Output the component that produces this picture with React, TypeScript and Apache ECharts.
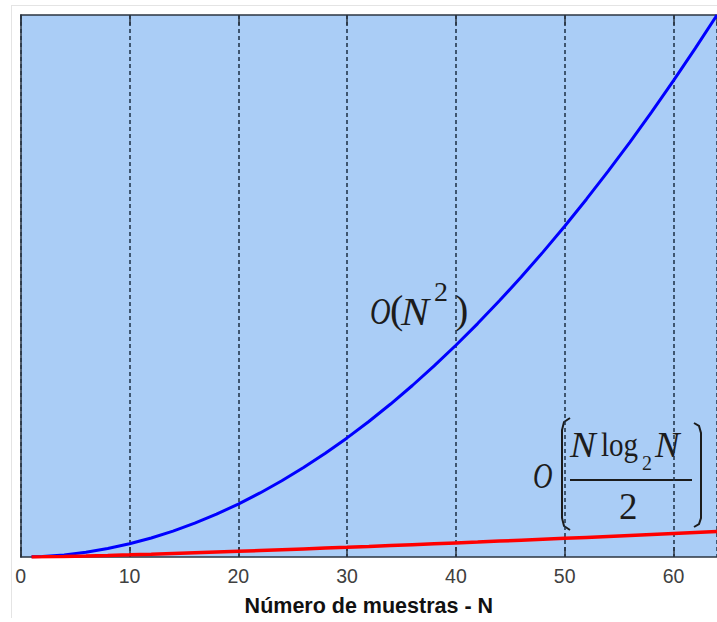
import React, { useEffect, useRef } from "react";
import * as echarts from "echarts";

// Sample sizes N and the two cost curves
const sampleN = [1, 2, 4, 6, 8, 10, 12, 14, 16, 18, 20, 22, 24, 26, 28, 30, 32, 34, 36, 38, 40, 42, 44, 46, 48, 50, 52, 54, 56, 58, 60, 62, 64];
const quadraticCost = [1, 4, 16, 36, 64, 100, 144, 196, 256, 324, 400, 484, 576, 676, 784, 900, 1024, 1156, 1296, 1444, 1600, 1764, 1936, 2116, 2304, 2500, 2704, 2916, 3136, 3364, 3600, 3844, 4096];
const fftCost = [0, 1, 4, 7.8, 12, 16.6, 21.5, 26.7, 32, 37.5, 43.2, 49.1, 55, 61.1, 67.3, 73.6, 80, 86.5, 93.1, 99.7, 106.4, 113.2, 120.1, 127, 134, 141.1, 148.2, 155.4, 162.6, 169.9, 177.2, 184.6, 192];
const xTickLabels = ["0", "10", "20", "30", "40", "50", "60"];
const xAxisTitle = "Número de muestras - N";

const SERIF = '"Liberation Serif", "Times New Roman", serif';
const INK = "#1c1c1c";

export default function App() {
  const ref = useRef<HTMLDivElement>(null);

  useEffect(() => {
    if (!ref.current) return;
    const chart = echarts.init(ref.current, undefined, { renderer: "svg" });

    const txt = (text: string, x: number, y: number, size: number, italic: boolean, sx = 1) => ({
      type: "text",
      x,
      y,
      scaleX: sx,
      silent: true,
      style: {
        text,
        fill: INK,
        fontFamily: SERIF,
        fontSize: size,
        fontStyle: italic ? "italic" : "normal",
        align: "left",
        verticalAlign: "middle",
      },
    });

    const option: any = {
      animation: false,
      backgroundColor: "#ffffff",
      grid: {
        left: 20.7,
        right: -3.2,
        top: 15,
        bottom: 57,
        show: true,
        backgroundColor: "#AACDF6",
        borderWidth: 0,
      },
      xAxis: [
        {
          type: "value",
          min: 0,
          max: 64,
          interval: 10,
          position: "bottom",
          name: xAxisTitle,
          nameLocation: "middle",
          nameGap: 38,
          nameTextStyle: {
            fontFamily: '"Liberation Sans", Arial, sans-serif',
            fontWeight: "bold",
            fontSize: 21.5,
            color: "#111",
          },
          axisLine: { show: true, lineStyle: { color: "#2b3440", width: 1.5 } },
          axisTick: { show: true, inside: true, length: 10, lineStyle: { color: "#2b3440", width: 1.5 } },
          axisLabel: {
            show: true,
            margin: 9,
            fontFamily: '"Liberation Sans", Arial, sans-serif',
            fontSize: 19.5,
            color: "#404040",
            showMaxLabel: false,
            formatter: (v: number) => (xTickLabels.includes(String(v)) ? String(v) : ""),
          },
          splitLine: {
            show: true,
            lineStyle: { color: "#1d2f44", width: 1.5, type: [4, 3] },
          },
        },
        {
          type: "value",
          min: 0,
          max: 64,
          interval: 10,
          position: "top",
          axisLine: { show: true, lineStyle: { color: "#2b3440", width: 1.5 } },
          axisTick: { show: true, inside: true, length: 10, lineStyle: { color: "#2b3440", width: 1.5 } },
          axisLabel: { show: false },
          splitLine: { show: false },
        },
      ],
      yAxis: {
        type: "value",
        min: 0,
        max: 4096,
        axisLine: { show: true, lineStyle: { color: "#2b3440", width: 1.5 } },
        axisTick: { show: false },
        axisLabel: { show: false },
        splitLine: { show: false },
      },
      series: [
        {
          type: "line",
          name: "O(N^2)",
          xAxisIndex: 0,
          data: sampleN.map((n, i) => [n, quadraticCost[i]]),
          showSymbol: false,
          symbol: "none",
          lineStyle: { color: "#0000ff", width: 3 },
          z: 3,
        },
        {
          type: "line",
          name: "O(N log2 N / 2)",
          xAxisIndex: 0,
          data: sampleN.map((n, i) => [n, fftCost[i]]),
          showSymbol: false,
          symbol: "none",
          lineStyle: { color: "#ff0000", width: 3.5 },
          z: 4,
        },
      ],
      graphic: [
        // outer light frame
        { type: "line", silent: true, shape: { x1: 11, y1: 5.5, x2: 717, y2: 5.5 }, style: { stroke: "#e4e4e4", lineWidth: 1 } },
        { type: "line", silent: true, shape: { x1: 11.5, y1: 5, x2: 11.5, y2: 618 }, style: { stroke: "#e4e4e4", lineWidth: 1 } },
        // O(N^2)
        txt("O", 370, 311, 38, true, 0.75),
        txt("(", 390, 309, 40, false),
        txt("N", 401, 311, 40, true, 1.05),
        txt("2", 434, 291, 28, false),
        txt(")", 455, 309, 40, false),
        // O( N log2 N / 2 )
        txt("O", 533, 476, 36, true, 0.75),
        {
          type: "polyline",
          silent: true,
          shape: { points: [[570, 418], [564, 422], [562, 430], [562, 518], [564, 526], [570, 530]] },
          style: { stroke: INK, lineWidth: 2, fill: "none" },
        },
        {
          type: "polyline",
          silent: true,
          shape: { points: [[694, 423], [699, 426], [701, 433], [701, 518], [699, 524], [694, 527]] },
          style: { stroke: INK, lineWidth: 2, fill: "none" },
        },
        txt("N", 570, 445, 35, true, 1.1),
        txt("log", 601, 445, 33, false, 0.88),
        txt("2", 642, 463, 20, false),
        txt("N", 655, 445, 35, true, 1.05),
        { type: "line", silent: true, shape: { x1: 570, y1: 480, x2: 692, y2: 480 }, style: { stroke: INK, lineWidth: 2 } },
        txt("2", 619, 506, 37, false),
      ],
    };

    chart.setOption(option);
    return () => chart.dispose();
  }, []);

  return (
    <div
      ref={ref}
      style={{ position: "fixed", left: 0, top: 0, width: 717, height: 622 }}
    />
  );
}
